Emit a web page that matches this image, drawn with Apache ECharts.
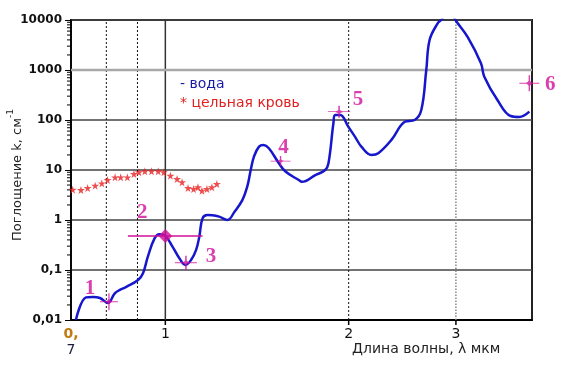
<!DOCTYPE html>
<html><head><meta charset="utf-8">
<script src="https://cdn.jsdelivr.net/npm/echarts@6/dist/echarts.min.js"></script>
<style>html,body{margin:0;padding:0;background:#fff}#c{width:567px;height:365px}</style>
</head><body><div id="c"></div>
<script>
// ---- data ----
const waterLambda = [0.713,0.741,0.761,0.781,0.805,0.826,0.842,0.863,0.902,0.919,0.936,0.960,0.978,1.000,1.028,1.055,1.079,1.102,1.123,1.137,1.151,1.173,1.195,1.226,1.264,1.300,1.338,1.363,1.381,1.398,1.425,1.450,1.479,1.536,1.575,1.656,1.676,1.763,1.830,1.853,1.888,1.900,1.937,1.998,2.049,2.100,2.180,2.237,2.351,2.473,2.567,2.632,2.682,2.716,2.800,2.837,2.900,2.960,3.002,3.137,3.298,3.340,3.510,3.690,3.810,3.960];
const waterK = [0.01,0.0284,0.029,0.0275,0.022,0.034,0.040,0.046,0.063,0.086,0.185,0.43,0.52,0.48,0.29,0.17,0.126,0.158,0.25,0.46,1.08,1.26,1.25,1.17,1.0,1.48,2.5,4.65,10,18.5,29.4,31.6,27.2,13.7,9.3,6.3,5.8,7.9,10,13.7,87,126,126,73,46,29,20,21.6,40,92,100,158,1000,3981,8590,10000,13500,12500,9550,4560,1370,736,251,120,115,147];
const bloodLambda = [0.7045,0.7268,0.7454,0.767,0.7865,0.8036,0.8269,0.8447,0.8663,0.8881,0.905,0.9255,0.9491,0.9734,0.9941,1.0194,1.0454,1.0653,1.0896,1.1127,1.1313,1.1485,1.1703,1.1925,1.2151];
const bloodK = [4.04,3.98,4.37,4.85,5.42,6.31,7.14,7.14,7.14,8.32,9.0,9.42,9.42,9.42,9.0,7.69,6.61,5.68,4.37,4.17,4.51,3.85,4.17,4.51,5.25];
const markerLambda = [0.808,1.0,1.081,1.546,1.929,3.96];
const markerK = [0.0232,0.479,0.140,15.1,146.6,542];
const markerLabels = ['1','2','3','4','5','6'];
const bar2Lambda = [0.868,1.151];
const bar2K = [0.479,0.479];
const refLambda = [0.8,0.9,1,2,3];
const xTickValues = [0.7,1,2,3];
const xTickLabels = ['{a|0,}\n{b|7}','1','2','3'];
const yDecades = [0.01,0.1,1,10,100,1000];
const yMinorMantissas = [2,3,4,5,6,7,8,9];
const seriesNames = ['- вода','* цельная кровь'];
const xName = 'Длина волны, λ мкм';
const yName = 'Поглощение k, см';

// ---- styles ----
const MAG = '#d0109a';
const FONT = '"DejaVu Sans", Verdana, sans-serif';
const crossPath = 'path://M0,9.3L20,9.3L20,10.7L0,10.7Z M9.3,0L10.7,0L10.7,20L9.3,20Z M10,5.5L11.6,8.4L14.5,10L11.6,11.6L10,14.5L8.4,11.6L5.5,10L8.4,8.4Z';
const starPath = 'path://M50,0L61,35L98,35L68,57L79,91L50,70L21,91L32,57L2,35L39,35Z';
const markerSizes = [[18,17],[14,14],[22,14],[20,10],[22,12],[20,16]];
const markerOffsets = [[-19,-13],[-23,-23],[25,-6],[3,-13],[19,-12],[21,1]];
const refStyles = [
  {stroke:'#111', lineWidth:1, lineDash:[2,2]},
  {stroke:'#111', lineWidth:1, lineDash:[2,2]},
  {stroke:'#333', lineWidth:1.5},
  {stroke:'#111', lineWidth:1, lineDash:[2,2]},
  {stroke:'#888', lineWidth:1.5, lineDash:[1.5,1.5]}
];

const yMinor = [];
yDecades.forEach(d => yMinorMantissas.forEach(m => yMinor.push([0.7, d*m])));

function fmtY(v){
  const e = Math.round(Math.log10(v));
  if (e >= 0) return String(Math.round(Math.pow(10,e)));
  return '0,' + '0'.repeat(-e-1) + '1';
}

const chart = echarts.init(document.getElementById('c'), null, {renderer:'canvas'});
chart.setOption({
  animation:false,
  backgroundColor:'#fff',
  grid:{left:71, right:35, top:20, bottom:45, show:true, borderColor:'#222', borderWidth:2, backgroundColor:'transparent'},
  xAxis:{type:'log', logBase:10, min:0.7, max:4,
    axisLine:{lineStyle:{color:'#000', width:2}}, axisTick:{show:false}, axisLabel:{show:false}, splitLine:{show:false}},
  yAxis:{type:'log', logBase:10, min:0.01, max:10000,
    axisLine:{show:true, lineStyle:{color:'#000', width:1.5}},
    axisTick:{show:true, length:6, lineStyle:{color:'#000', width:1}},
    axisLabel:{formatter:fmtY, fontFamily:FONT, fontWeight:'bold', fontSize:12, color:'#111', margin:9},
    splitLine:{show:true, lineStyle:{color:'#444', width:1.5}}},
  graphic:[
    {type:'text', left:180, top:77, style:{text:seriesNames[0], fill:'#1a1aa8', font:'14px ' + FONT}},
    {type:'text', left:180, top:96, style:{text:seriesNames[1], fill:'#e02020', font:'14px ' + FONT}},
    {type:'text', left:352, top:342, style:{text:xName, fill:'#222', font:'14px ' + FONT}},
    {type:'text', x:15, y:175, rotation:Math.PI/2,
      style:{text:'{a|'+yName+'}{s|-1}', align:'center', verticalAlign:'middle',
        rich:{a:{fontSize:13, fontFamily:FONT, fill:'#222', lineHeight:18, verticalAlign:'bottom'},
              s:{fontSize:9, fontFamily:FONT, fill:'#222', lineHeight:18, verticalAlign:'top', padding:[0,0,10,0]}}}}
  ],
  series:[
    {type:'custom', name:'refs', clip:false, silent:true, z:1,
      data: refLambda.map(v=>[v]),
      renderItem:(params, api)=>{
        const v = api.value(0);
        const p1 = api.coord([v, 0.01]), p2 = api.coord([v, 10000]);
        return {type:'line', shape:{x1:p1[0], y1:p1[1], x2:p2[0], y2:p2[1]}, style:refStyles[params.dataIndex]};
      }},
    {type:'custom', name:'grey1000', clip:false, silent:true, z:1,
      data:[[1000]],
      renderItem:(params, api)=>{
        const p1 = api.coord([0.7, api.value(0)]), p2 = api.coord([4, api.value(0)]);
        return {type:'line', shape:{x1:p1[0], y1:p1[1], x2:p2[0], y2:p2[1]}, style:{stroke:'#a8a8a8', lineWidth:2.5}};
      }},
    {type:'custom', name:'yminor', clip:false, silent:true, z:3,
      data: yMinor,
      renderItem:(params, api)=>{
        const p = api.coord([api.value(0), api.value(1)]);
        return {type:'line', shape:{x1:p[0]-4, y1:p[1], x2:p[0], y2:p[1]}, style:{stroke:'#000', lineWidth:1}};
      }},
    {type:'custom', name:'xticks', clip:false, silent:true, z:3,
      data: xTickValues.map(v=>[v]),
      renderItem:(params, api)=>{
        const i = params.dataIndex;
        const p = api.coord([api.value(0), 0.01]);
        const children = [];
        if (i > 0) children.push({type:'line', shape:{x1:p[0], y1:p[1], x2:p[0], y2:p[1]+5}, style:{stroke:'#000', lineWidth:1.5}});
        children.push({type:'text', x:p[0], y:p[1]+6, style:{text:xTickLabels[i], align:'center', verticalAlign:'top',
          fontSize:14, fontFamily:FONT, fill:'#111', lineHeight:16,
          rich:{a:{fontSize:14, fill:'#c07a10', lineHeight:16, fontFamily:FONT, fontWeight:'bold'}, b:{fontSize:14, fill:'#1a1a40', lineHeight:16, fontFamily:FONT}}}});
        return {type:'group', children};
      }},
    {type:'scatter', name:'blood', z:4, symbol:starPath, symbolSize:8,
      itemStyle:{color:'#e82020'},
      data: bloodLambda.map((x,i)=>[x, bloodK[i]])},
    {type:'line', name:'water', z:5, smooth:0.4, showSymbol:false, symbol:'none', clip:true,
      lineStyle:{color:'#1616cc', width:2.5},
      data: waterLambda.map((x,i)=>[x, waterK[i]])},
    {type:'line', name:'bar2', z:6, showSymbol:false, symbol:'none',
      lineStyle:{color:MAG, width:1.5},
      data: bar2Lambda.map((x,i)=>[x, bar2K[i]])},
    {type:'scatter', name:'markers', z:7, clip:false,
      itemStyle:{color:MAG},
      data: markerLambda.map((x,i)=>({
        value:[x, markerK[i]],
        symbol: i===1 ? 'diamond' : crossPath,
        symbolSize: markerSizes[i],
        label:{show:true, position:'inside', offset:markerOffsets[i], formatter:markerLabels[i],
          color:MAG, fontFamily:'"Liberation Serif", "Times New Roman", serif', fontWeight:'bold', fontSize:21}
      }))}
  ]
});
</script>
</body></html>
